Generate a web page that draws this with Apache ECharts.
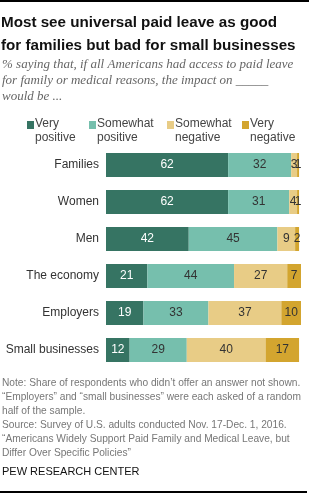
<!DOCTYPE html>
<html>
<head>
<meta charset="utf-8">
<script src="https://cdn.jsdelivr.net/npm/echarts@6/dist/echarts.min.js"></script>
<style>
  html, body { margin: 0; padding: 0; background: #fff; }
  #chart { width: 309px; height: 494px; }
</style>
</head>
<body>
<div id="chart"></div>
<script>
var categories = ['Families', 'Women', 'Men', 'The economy', 'Employers', 'Small businesses'];
var seriesNames = ['Very positive', 'Somewhat positive', 'Somewhat negative', 'Very negative'];
var veryPositive = [62, 62, 42, 21, 19, 12];
var somewhatPositive = [32, 31, 45, 44, 33, 29];
var somewhatNegative = [3, 4, 9, 27, 37, 40];
var veryNegative = [1, 1, 2, 7, 10, 17];

var colors = ['#367463', '#76bfad', '#e8cc86', '#d3a52f'];
var labelColors = ['#fff', '#333', '#333', '#333'];
var values = [veryPositive, somewhatPositive, somewhatNegative, veryNegative];

var chart = echarts.init(document.getElementById('chart'));

var series = [];
for (var i = 0; i < 4; i++) {
  series.push({
    name: seriesNames[i],
    type: 'bar',
    stack: 'total',
    barWidth: 24,
    data: values[i],
    itemStyle: { color: colors[i] },
    label: {
      show: true,
      position: 'inside',
      color: labelColors[i],
      fontSize: 12,
      fontFamily: 'Liberation Sans, Arial, sans-serif'
    },
    labelLayout: { hideOverlap: false },
    emphasis: { disabled: true }
  });
}

// legend drawn as rect + two-line text
var legendX = [27, 89, 167, 242];
var legendText = ['Very\npositive', 'Somewhat\npositive', 'Somewhat\nnegative', 'Very\nnegative'];
var legendGraphics = [];
for (var j = 0; j < 4; j++) {
  legendGraphics.push({
    type: 'rect',
    shape: { x: legendX[j], y: 121, width: 7, height: 8 },
    style: { fill: colors[j] }
  });
  legendGraphics.push({
    type: 'text',
    x: legendX[j] + 8,
    y: 117,
    style: {
      text: legendText[j],
      fill: '#444',
      font: '12px "Liberation Sans", Arial, sans-serif',
      lineHeight: 14
    }
  });
}

var option = {
  backgroundColor: '#fff',
  animation: false,
  grid: { left: 106, top: 146.5, width: 197, height: 222, containLabel: false },
  xAxis: {
    type: 'value',
    min: 0,
    max: 100,
    show: false
  },
  yAxis: {
    type: 'category',
    data: categories,
    inverse: true,
    axisLine: { show: false },
    axisTick: { show: false },
    axisLabel: {
      margin: 7,
      color: '#333',
      fontSize: 12,
      fontFamily: 'Liberation Sans, Arial, sans-serif'
    }
  },
  series: series,
  graphic: [
    { type: 'rect', shape: { x: 0, y: 0, width: 309, height: 2 }, style: { fill: '#000' } },
    {
      type: 'text', x: 1, y: 11,
      style: {
        text: 'Most see universal paid leave as good\nfor families but bad for small businesses',
        fill: '#111',
        font: 'bold 15.2px "Liberation Sans", Arial, sans-serif',
        lineHeight: 23
      }
    },
    {
      type: 'text', x: 2, y: 57,
      style: {
        text: '% saying that, if all Americans had access to paid leave\nfor family or medical reasons, the impact on _____\nwould be ...',
        fill: '#666',
        font: 'italic 13px "Liberation Serif", Georgia, serif',
        lineHeight: 16
      }
    }
  ].concat(legendGraphics).concat([
    {
      type: 'text', x: 2, y: 376,
      style: {
        text: 'Note: Share of respondents who didn\u2019t offer an answer not shown.\n\u201cEmployers\u201d and \u201csmall businesses\u201d were each asked of a random\nhalf of the sample.\nSource: Survey of U.S. adults conducted Nov. 17-Dec. 1, 2016.\n\u201cAmericans Widely Support Paid Family and Medical Leave, but\nDiffer Over Specific Policies\u201d',
        fill: '#777',
        font: '10.2px "Liberation Sans", Arial, sans-serif',
        lineHeight: 14
      }
    },
    {
      type: 'text', x: 2, y: 466,
      style: {
        text: 'PEW RESEARCH CENTER',
        fill: '#111',
        font: '11px "Liberation Sans", Arial, sans-serif'
      }
    },
    { type: 'rect', shape: { x: 0, y: 491, width: 307, height: 2 }, style: { fill: '#000' } }
  ])
};

chart.setOption(option);
</script>
</body>
</html>
